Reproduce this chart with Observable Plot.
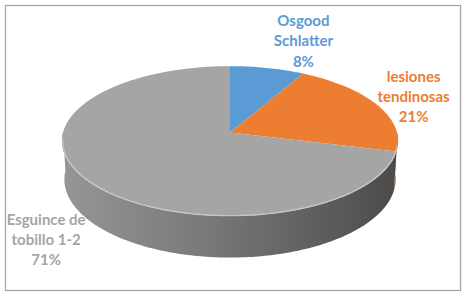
<!DOCTYPE html>
<html><head><meta charset="utf-8">
<script src="https://cdn.jsdelivr.net/npm/d3@7"></script>
<script src="https://cdn.jsdelivr.net/npm/@observablehq/plot@0.6"></script>
<style>body{margin:0;background:#fff}</style>
</head><body>
<svg width="0" height="0" style="position:absolute">
  <defs>
    <linearGradient id="sideGray" gradientUnits="userSpaceOnUse" x1="62" y1="0" x2="398" y2="0">
      <stop offset="0" stop-color="#969696"/>
      <stop offset="0.45" stop-color="#777777"/>
      <stop offset="1" stop-color="#4b4b4b"/>
    </linearGradient>
    <linearGradient id="sideOrange" gradientUnits="userSpaceOnUse" x1="62" y1="0" x2="398" y2="0">
      <stop offset="0" stop-color="#c96a26"/>
      <stop offset="1" stop-color="#a4521a"/>
    </linearGradient>
    <linearGradient id="sideBlue" gradientUnits="userSpaceOnUse" x1="62" y1="0" x2="398" y2="0">
      <stop offset="0" stop-color="#4f86b8"/>
      <stop offset="1" stop-color="#3d6a94"/>
    </linearGradient>
    <filter id="blurShadow" x="-20%" y="-50%" width="140%" height="200%">
      <feGaussianBlur stdDeviation="4"/>
    </filter>
  </defs>
</svg>
<div id="chart"></div>
<script>
// ---- data ----
const categories = ["Osgood Schlatter", "lesiones tendinosas", "Esguince de tobillo 1-2"];
const labelLines = ["Osgood\nSchlatter", "lesiones\ntendinosas", "Esguince de\ntobillo 1-2"];
const shares = [8, 21, 71];
const topColors = ["#5B9BD5", "#ED7D31", "#A5A5A5"];
const sideFills = ["url(#sideBlue)", "url(#sideOrange)", "url(#sideGray)"];
const labelColors = ["#5B9BD5", "#ED7D31", "#A5A5A5"];

// ---- layout / perspective ----
const W = 464, H = 295;
const view = {cx: 229.5, cy: 132, F: 1309, D: 7.84, phi: Math.asin(0.443), h: 0.258};
function project(theta, r, y) {
  const x = r * Math.sin(theta), z = -r * Math.cos(theta);
  const s = Math.sin(view.phi), c = Math.cos(view.phi);
  const px = x, py = y * c - z * s, depth = view.D - (y * s + z * c);
  return [view.cx + view.F * px / depth, view.cy - view.F * py / depth];
}
function arcPts(a0, a1, y, r = 1) {
  const n = Math.max(2, Math.ceil(Math.abs(a1 - a0) / (Math.PI / 180)));
  return d3.range(n + 1).map(i => project(a0 + (a1 - a0) * i / n, r, y));
}

const arcs = d3.pie().sort(null)(shares);
const deg = Math.PI / 180;
const frontA = 90 * deg, frontB = 270 * deg;

const marks = [];
// shadow
const shadowPts = arcPts(0, 2 * Math.PI, -view.h - 0.05).map(([x, y]) => [x + 3, y + 2]);
marks.push(Plot.line(shadowPts, {x: d => d[0], y: d => d[1], fill: "#000", fillOpacity: 0.16, stroke: "none", ariaLabel: "shadow"}));
// sides
arcs.forEach((a, i) => {
  const s = Math.max(a.startAngle, frontA), e = Math.min(a.endAngle, frontB);
  if (e <= s) return;
  const pts = arcPts(s, e, 0).concat(arcPts(e, s, -view.h));
  marks.push(Plot.line(pts, {x: d => d[0], y: d => d[1], fill: sideFills[i], stroke: "none"}));
});
// top faces
arcs.forEach((a, i) => {
  const pts = [project(0, 0, 0)].concat(arcPts(a.startAngle, a.endAngle, 0));
  marks.push(Plot.line(pts, {x: d => d[0], y: d => d[1], fill: topColors[i], stroke: "none"}));
});
// rim bevel highlight on top face
marks.push(Plot.line(arcPts(100 * deg, 265 * deg, 0, 0.996), {x: d => d[0], y: d => d[1], stroke: "#cfcfcf", strokeOpacity: 0.75, strokeWidth: 1.4}));

// labels
const labelNudge = [[36, -28], [37, -9], [-42, 57]];
const labels = arcs.map((a, i) => {
  const [x, y] = project((a.startAngle + a.endAngle) / 2, 1, 0);
  return {x: x + labelNudge[i][0], y: y + labelNudge[i][1], text: `${labelLines[i]}\n${shares[i]}%`, color: labelColors[i]};
});
marks.push(Plot.text(labels, {x: "x", y: "y", text: "text", fill: "color", fontWeight: "bold", fontSize: 15, lineHeight: 1.34, lineAnchor: "middle", textAnchor: "middle"}));
marks.push(Plot.frame({stroke: "#a6a6a6", strokeWidth: 1.3, insetLeft: 5, insetTop: 5, insetRight: 4, insetBottom: 5}));

const chart = Plot.plot({
  width: W, height: H, margin: 0,
  x: {domain: [0, W], range: [0, W], axis: null},
  y: {domain: [0, H], range: [0, H], axis: null},
  style: {fontFamily: "Lato, 'Open Sans', sans-serif", background: "#fff"},
  marks
});
const sh = chart.querySelector('[aria-label="shadow"]');
if (sh) sh.setAttribute("filter", "url(#blurShadow)");
document.getElementById("chart").appendChild(chart);
</script>
</body></html>
